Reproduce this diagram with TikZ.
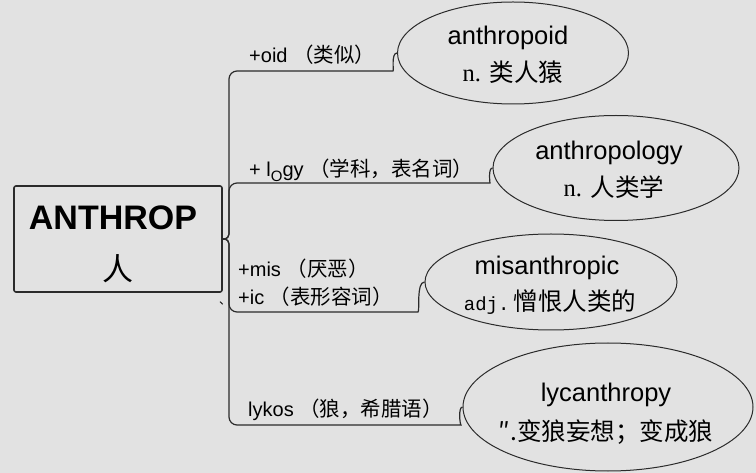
\documentclass[tikz,border=0pt]{standalone}
\usepackage{fontspec}
\setmainfont{Liberation Sans}
\newfontfamily\cjk{Noto Sans CJK SC}
\newfontfamily\serifn{Liberation Serif}
\newfontfamily\monoadj{Liberation Mono}
\usetikzlibrary{shapes.geometric}
\definecolor{paper}{HTML}{E2E2E2}
\definecolor{ink}{HTML}{2B2B2B}

\begin{document}
\begin{tikzpicture}[
        x=1pt, y=1pt,
        root/.style={draw=ink, line width=1.6pt, rounded corners=2pt, minimum width=208pt, minimum height=106pt},
        word/.style={draw=ink, ellipse, line width=1pt, inner sep=0pt},
        branch/.style={draw=ink, line width=1.2pt, rounded corners=8pt},
        tag/.style={anchor=base west, inner sep=0pt, font=\fontsize{20}{20}\selectfont},
        title/.style={anchor=base, inner sep=0pt, font=\fontsize{25.5}{25.5}\selectfont},
        gloss/.style={anchor=base, inner sep=0pt, font=\fontsize{24.5}{24.5}\selectfont}
    ]
    \fill[paper] (0,0) rectangle (756,-473);
    \useasboundingbox (0,0) rectangle (756,-473);

    % root word
    \node[root] (root) at (118,-239) {};
    \node[anchor=base, inner sep=0pt, font=\bfseries\fontsize{34}{34}\selectfont] (rootword) at (113,-230) {ANTHROP};
    \node[anchor=base, inner sep=0pt, font=\cjk\fontsize{31}{31}\selectfont] (rootmean) at (118,-281) {人};
    \node[anchor=base, inner sep=0pt, font=\cjk\fontsize{12}{12}\selectfont] (mark) at (225,-305) {、};

    % derived words
    \node[word, minimum width=231pt, minimum height=102pt] (oid) at (513,-53) {};
    \node[word, minimum width=246pt, minimum height=105pt] (logy) at (616,-168) {};
    \node[word, minimum width=252pt, minimum height=96pt] (mis) at (551,-282) {};
    \node[word, minimum width=290pt, minimum height=128pt] (lyk) at (608,-407) {};

    \node[title] (oidword) at (508,-45) {anthropoid};
    \node[gloss] (oidmean) at (513,-82) {{\serifn n.} {\cjk 类人猿}};
    \node[title] (logyword) at (609,-160) {anthropology};
    \node[gloss] (logymean) at (614,-197) {{\serifn n.} {\cjk 人类学}};
    \node[title] (misword) at (547,-275) {misanthropic};
    \node[gloss] (mismean) at (550,-311) {{\monoadj\fontsize{19}{19}\selectfont adj.}\,{\cjk 憎恨人类的}};
    \node[title] (lykword) at (606,-402) {lycanthropy};
    \node[gloss] (lykmean) at (606,-440) {{\cjk ″.变狼妄想；变成狼}};

    % branches
    \draw[branch] (root.east) .. controls (228,-239) and (229,-236) .. (229,-226)
        -- (229,-71) -- (385,-71) .. controls (394,-71) and (391,-53) .. (oid.west);
    \draw[branch] (root.east) .. controls (228,-239) and (229,-236) .. (229,-226)
        -- (229,-183) -- (482,-183) .. controls (490,-183) and (488,-168) .. (logy.west);
    \draw[branch] (root.east) .. controls (228,-239) and (229,-242) .. (229,-252)
        -- (229,-312) -- (410,-312) .. controls (420,-312) and (416,-282) .. (mis.west);
    \draw[branch] (root.east) .. controls (228,-239) and (229,-242) .. (229,-252)
        -- (229,-425) -- (453,-425) .. controls (460,-425) and (458,-407) .. (lyk.west);

    % affixes
    \node[tag] (oidtag) at (249,-63) {+oid {\cjk\fontsize{20.5}{20.5}\selectfont （类似）}};
    \node[tag] (logytag) at (249,-177) {+ l\raisebox{-5pt}{\fontsize{15}{15}\selectfont O}gy {\cjk\fontsize{20.5}{20.5}\selectfont （学科，表名词）}};
    \node[tag] (mistag) at (238,-277) {+mis {\cjk\fontsize{20.5}{20.5}\selectfont （厌恶）}};
    \node[tag] (ictag) at (238,-305) {+ic {\cjk\fontsize{20.5}{20.5}\selectfont （表形容词）}};
    \node[tag] (lyktag) at (248,-417) {lykos {\cjk\fontsize{20.5}{20.5}\selectfont （狼，希腊语）}};
\end{tikzpicture}
\end{document}
